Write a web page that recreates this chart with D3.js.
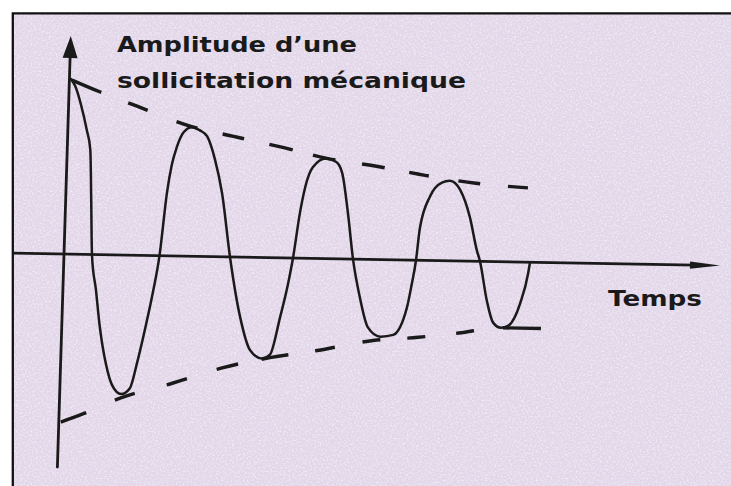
<!DOCTYPE html>
<html>
<head>
<meta charset="utf-8">
<script src="https://cdn.jsdelivr.net/npm/d3@7"></script>
<style>
  html, body { margin: 0; padding: 0; background: #ffffff; overflow: hidden; }
  svg { display: block; }
</style>
</head>
<body>
<svg id="chart" width="731" height="486"></svg>
<script>
// Damped oscillation of a mechanical load: time (arbitrary units) and amplitude.
const curveTime = [0.03,0.12,0.25,0.38,0.46,0.51,0.56,0.66,0.76,0.91,
  1.04,1.23,1.40,1.53,1.68,1.80,1.91,2.02,2.10,2.19,
  2.32,2.48,2.64,2.79,2.96,3.12,3.32,3.56,3.78,4.02,
  4.18,4.36,4.50,4.58,4.69,4.78,4.92,5.18,5.38,5.51,
  5.65,5.78,5.94,6.12,6.37,6.63,6.89,6.96,7.04,7.10,
  7.28,7.51,7.67,7.88,8.09,8.25,8.32,8.48,8.62,8.78,
  8.92,9.15,9.29,9.32];
const curveAmplitude = [1.75,1.68,1.49,1.24,1.05,0.55,0,-0.35,-0.72,-1.10,
  -1.30,-1.39,-1.33,-1.07,-0.70,-0.37,0,0.63,0.91,1.09,
  1.24,1.29,1.26,1.20,0.97,0.64,0,-0.60,-0.93,-1.01,
  -0.97,-0.59,-0.25,0,0.45,0.71,0.91,1.00,0.97,0.86,
  0.46,0,-0.38,-0.68,-0.77,-0.75,-0.47,-0.27,0,0.33,
  0.64,0.78,0.80,0.71,0.44,0.11,0,-0.39,-0.61,-0.66,
  -0.64,-0.41,-0.11,0];

// Decay envelopes through the successive peaks and troughs.
const upperTime = [0.05,0.60,1.37,2.44,3.37,4.35,5.22,6.22,7.17,8.19,9.37];
const upperAmplitude = [1.74,1.63,1.49,1.30,1.20,1.10,1.00,0.93,0.85,0.78,0.74];
const lowerTime = [0.04,0.50,1.21,2.26,3.23,4.18,5.12,6.23,7.13,7.94,8.76,9.58];
const lowerAmplitude = [-1.68,-1.59,-1.43,-1.27,-1.11,-1.00,-0.92,-0.81,-0.77,-0.72,-0.66,-0.66];

// Axis extents (data units) and labels.
const timeExtent = [-1.0, 13.12];
const amplitudeExtent = [-2.13, 2.18];
const yAxisLabel = ["Amplitude d\u2019une", "sollicitation m\u00e9canique"];
const xAxisLabel = "Temps";

const W = 731, H = 486;
const ink = "#1a1a1a";
const svg = d3.select("#chart");

// Paper texture
const defs = svg.append("defs");
const grain = defs.append("filter").attr("id", "grain")
  .attr("x", 0).attr("y", 0).attr("width", "100%").attr("height", "100%");
grain.append("feTurbulence").attr("type", "fractalNoise")
  .attr("baseFrequency", 0.55).attr("numOctaves", 2).attr("seed", 7).attr("result", "n");
grain.append("feColorMatrix").attr("in", "n").attr("type", "matrix")
  .attr("values", "0 0 0 0 0.93  0 0 0 0 0.92  0 0 0 0 0.98  1.8 0 0 0 -0.78");

svg.append("rect").attr("width", W).attr("height", H).attr("fill", "#ffffff");
svg.append("rect").attr("x", 13).attr("y", 14).attr("width", W - 13).attr("height", H - 14)
  .attr("fill", "#e2d6e8");
svg.append("rect").attr("x", 13).attr("y", 14).attr("width", W - 13).attr("height", H - 14)
  .attr("fill", "#fff").attr("filter", "url(#grain)");

// Frame (top and left edges)
svg.append("path").attr("d", `M12.8,${H} V13.4 H${W}`)
  .attr("fill", "none").attr("stroke", "#111").attr("stroke-width", 2.3);

// Plot area: hand-drawn axes are slightly tilted, so the plot frame is sheared.
const plot = svg.append("g")
  .attr("transform", "matrix(1,0.0177,-0.031,1,64,254)");

const x = d3.scaleLinear().domain([0, 10]).range([0, 500]);
const y = d3.scaleLinear().domain([-2, 2]).range([200, -200]);

// Time axis with arrow
const xArrowLen = 0.5;
plot.append("line")
  .attr("x1", x(timeExtent[0])).attr("x2", x(timeExtent[1] - xArrowLen))
  .attr("y1", y(0)).attr("y2", y(0))
  .attr("stroke", ink).attr("stroke-width", 2.6);
plot.append("path")
  .attr("d", d3.line()([
    [x(timeExtent[1] - xArrowLen - 0.1), y(0) - 3.6],
    [x(timeExtent[1]), y(0)],
    [x(timeExtent[1] - xArrowLen - 0.1), y(0) + 3.6]
  ]) + "Z")
  .attr("fill", ink);

// Amplitude axis with arrow
const yArrowLen = 0.22;
plot.append("line")
  .attr("x1", x(0)).attr("x2", x(0))
  .attr("y1", y(amplitudeExtent[0])).attr("y2", y(amplitudeExtent[1] - yArrowLen))
  .attr("stroke", ink).attr("stroke-width", 2.8).attr("stroke-linecap", "round");
plot.append("path")
  .attr("d", d3.line()([
    [x(0) - 7.5, y(amplitudeExtent[1] - yArrowLen)],
    [x(0), y(amplitudeExtent[1])],
    [x(0) + 7.5, y(amplitudeExtent[1] - yArrowLen)]
  ]) + "Z")
  .attr("fill", ink);

const line = d3.line()
  .x(d => x(d[0])).y(d => y(d[1]))
  .curve(d3.curveMonotoneX);

// Envelopes (dashed)
const upperDash = [32,29,21,31,22,26,22,26,24,21,23,27,23,25,20,30,22,28,20,40].join(",");
const lowerDash = [27,31,21,33,21,31,22,24,27,27,20,28,18,27,18,31,18,29,44,40].join(",");
plot.append("path")
  .attr("d", line(d3.zip(upperTime, upperAmplitude)))
  .attr("fill", "none").attr("stroke", ink).attr("stroke-width", 3.4)
  .attr("stroke-dasharray", upperDash);
plot.append("path")
  .attr("d", line(d3.zip(lowerTime, lowerAmplitude)))
  .attr("fill", "none").attr("stroke", ink).attr("stroke-width", 3.4)
  .attr("stroke-dasharray", lowerDash);

// Oscillation
plot.append("path")
  .attr("d", line(d3.zip(curveTime, curveAmplitude)))
  .attr("fill", "none").attr("stroke", ink).attr("stroke-width", 2.5)
  .attr("stroke-linejoin", "round").attr("stroke-linecap", "round");

// Labels
const labelFont = "'DejaVu Sans', Verdana, sans-serif";
svg.append("text").attr("x", 117).attr("y", 52)
  .attr("font-family", labelFont).attr("font-weight", "bold").attr("font-size", 21)
  .attr("fill", ink).attr("textLength", 240).attr("lengthAdjust", "spacingAndGlyphs")
  .text(yAxisLabel[0]);
svg.append("text").attr("x", 117).attr("y", 88)
  .attr("font-family", labelFont).attr("font-weight", "bold").attr("font-size", 21)
  .attr("fill", ink).attr("textLength", 349).attr("lengthAdjust", "spacingAndGlyphs")
  .text(yAxisLabel[1]);
svg.append("text").attr("x", 608).attr("y", 306)
  .attr("font-family", labelFont).attr("font-weight", "bold").attr("font-size", 22)
  .attr("fill", ink).attr("textLength", 94).attr("lengthAdjust", "spacingAndGlyphs")
  .text(xAxisLabel);
</script>
</body>
</html>
